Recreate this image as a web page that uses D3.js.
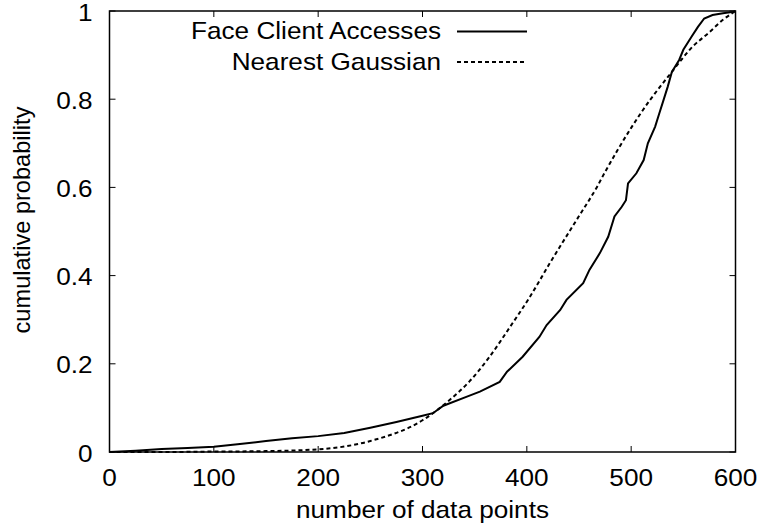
<!DOCTYPE html>
<html>
<head>
<meta charset="utf-8">
<script src="https://cdn.jsdelivr.net/npm/d3@7/dist/d3.min.js"></script>
<style>
  body { margin: 0; background: #fff; }
  text { font-family: "Liberation Sans", Arial, sans-serif; fill: #000; }
</style>
</head>
<body>
<div id="chart"></div>
<script>
// values
var seriesNames = ["Face Client Accesses", "Nearest Gaussian"];

var accessX = [0, 25, 50, 75, 100, 125, 150, 175, 200, 225, 250, 275, 300, 310, 320, 342, 355, 374, 381,
               396, 412, 419, 432, 438, 454, 460, 470, 478, 484, 491, 495, 497, 505, 512, 516, 523, 527, 531,
               535, 539, 546, 550, 558, 564, 570, 578, 588, 598, 600];
var accessY = [0, 0.003, 0.007, 0.009, 0.012, 0.018, 0.025, 0.031, 0.036, 0.043, 0.055, 0.068, 0.082, 0.088,
               0.105, 0.125, 0.137, 0.159, 0.182, 0.216, 0.261, 0.288, 0.322, 0.345, 0.383, 0.413, 0.451,
               0.488, 0.534, 0.556, 0.571, 0.609, 0.632, 0.662, 0.7, 0.738, 0.768, 0.798, 0.828, 0.862, 0.889,
               0.912, 0.942, 0.964, 0.983, 0.991, 0.995, 0.998, 1.0];

var gaussX = [0, 50, 100, 150, 200, 250, 300, 310, 326, 345, 364, 384, 403, 422, 450, 467, 475, 500, 518,
              525, 539, 550, 556, 575, 588, 600];
var gaussY = [0, 0, 0.001, 0.002, 0.006, 0.025, 0.072, 0.088, 0.118, 0.16, 0.215, 0.284, 0.352, 0.428, 0.535,
              0.6, 0.635, 0.735, 0.798, 0.82, 0.862, 0.895, 0.912, 0.952, 0.98, 1.0];

var xTicks = [0, 100, 200, 300, 400, 500, 600];
var yTicks = [0, 0.2, 0.4, 0.6, 0.8, 1];
var yTickLabels = ["0", "0.2", "0.4", "0.6", "0.8", "1"];

var width = 759, height = 531;
var margin = {top: 11, right: 23.5, bottom: 79, left: 109.5};
var plotW = width - margin.left - margin.right,
    plotH = height - margin.top - margin.bottom;
var textStretch = 1.09;
var fontSize = 24;

var svg = d3.select("#chart").append("svg")
    .attr("width", width)
    .attr("height", height);

var g = svg.append("g")
    .attr("transform", "translate(" + margin.left + "," + margin.top + ")");

var x = d3.scaleLinear().domain([0, 600]).range([0, plotW]);
var y = d3.scaleLinear().domain([0, 1]).range([plotH, 0]);

// horizontally stretched text, like the reference
function label(parent, tx, ty, str, anchor) {
    return parent.append("g")
        .attr("transform", "translate(" + tx + "," + ty + ") scale(" + textStretch + ",1)")
      .append("text")
        .attr("text-anchor", anchor)
        .attr("font-size", fontSize + "px")
        .text(str);
}

// inward ticks on all four sides
var tickLen = 6;
var ticks = g.append("g").attr("stroke", "#000").attr("stroke-width", 1);
xTicks.forEach(function(t) {
    ticks.append("line").attr("x1", x(t)).attr("x2", x(t)).attr("y1", plotH).attr("y2", plotH - tickLen);
    ticks.append("line").attr("x1", x(t)).attr("x2", x(t)).attr("y1", 0).attr("y2", tickLen);
    label(g, x(t), plotH + 34, t, "middle");
});
yTicks.forEach(function(t, i) {
    ticks.append("line").attr("x1", 0).attr("x2", tickLen).attr("y1", y(t)).attr("y2", y(t));
    ticks.append("line").attr("x1", plotW).attr("x2", plotW - tickLen).attr("y1", y(t)).attr("y2", y(t));
    label(g, -17, y(t) + 9.5, yTickLabels[i], "end");
});

// frame
g.append("rect")
    .attr("width", plotW).attr("height", plotH)
    .attr("fill", "none").attr("stroke", "#000").attr("stroke-width", 1.5);

var lineGen = d3.line()
    .x(function(d) { return x(d[0]); })
    .y(function(d) { return y(d[1]); });

g.append("path")
    .datum(d3.zip(gaussX, gaussY))
    .attr("fill", "none").attr("stroke", "#000").attr("stroke-width", 2)
    .attr("stroke-dasharray", "4,3")
    .attr("d", lineGen.curve(d3.curveMonotoneX));

g.append("path")
    .datum(d3.zip(accessX, accessY))
    .attr("fill", "none").attr("stroke", "#000").attr("stroke-width", 2)
    .attr("d", lineGen.curve(d3.curveLinear));

// legend
var legend = svg.append("g");
var legendRows = [{name: seriesNames[0], dash: null, y: 31.5},
                  {name: seriesNames[1], dash: "4,3", y: 62}];
legendRows.forEach(function(r) {
    label(legend, 441, r.y + 7.5, r.name, "end");
    legend.append("line")
        .attr("x1", 457).attr("x2", 527).attr("y1", r.y).attr("y2", r.y)
        .attr("stroke", "#000").attr("stroke-width", 2)
        .attr("stroke-dasharray", r.dash);
});

// axis titles
label(svg, margin.left + plotW / 2, 518, "number of data points", "middle");
svg.append("text")
    .attr("transform", "translate(30,220) rotate(-90)")
    .attr("text-anchor", "middle")
    .attr("font-size", "23.6px")
    .text("cumulative probability");
</script>
</body>
</html>
